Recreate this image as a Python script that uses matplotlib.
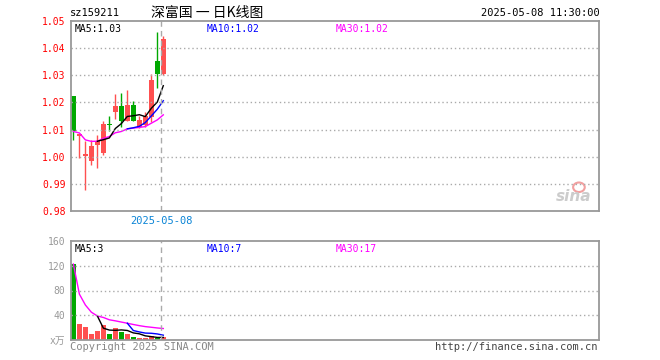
import numpy as np
import pandas as pd
import matplotlib
matplotlib.use('Agg')
import matplotlib.pyplot as plt
from matplotlib.patches import Ellipse

plt.rcParams['font.family'] = ['DejaVu Sans Mono', 'Noto Sans CJK SC']

# daily candles (16 trading days up to 2025-05-08)
opens  = [1.0225, 1.0075, 1.0001, 0.9983, 1.0042, 1.0013, 1.0122, 1.0163,
          1.0186, 1.0131, 1.0191, 1.0110, 1.0118, 1.0148, 1.0353, 1.0306]
closes = [1.0093, 1.0082, 1.0011, 1.0040, 1.0059, 1.0121, 1.0115, 1.0185,
          1.0130, 1.0191, 1.0133, 1.0135, 1.0150, 1.0283, 1.0306, 1.0434]
highs  = [1.0225, 1.0085, 1.0058, 1.0060, 1.0081, 1.0132, 1.0150, 1.0231,
          1.0235, 1.0245, 1.0205, 1.0150, 1.0165, 1.0305, 1.0458, 1.0446]
lows   = [1.0060, 0.9995, 0.9876, 0.9968, 0.9958, 1.0007, 1.0095, 1.0140,
          1.0111, 1.0130, 1.0130, 1.0105, 1.0108, 1.0129, 1.0253, 1.0300]
volumes = [122.7, 25.6, 21.3, 10.0, 14.4, 24.5, 10.0, 19.2,
           13.3, 10.0, 4.8, 2.7, 2.7, 7.0, 3.6, 4.8]

price_ticks = [0.98, 0.99, 1.00, 1.01, 1.02, 1.03, 1.04, 1.05]
vol_ticks = [0, 40, 80, 120, 160]
vol_tick_labels = ['x万', '40', '80', '120', '160']
last_date = '2025-05-08'

RED = '#ff5050'
GREEN = '#00a800'
GRAY = '#999999'

df = pd.DataFrame({'open': opens, 'close': closes, 'high': highs, 'low': lows, 'vol': volumes})
x = np.arange(len(df))
up = df['close'] >= df['open']
colors = np.where(up, RED, GREEN)

ma5 = df['close'].rolling(5).mean()
ma10 = df['close'].rolling(10).mean()
ma30 = df['close'].expanding().mean()
vma5 = df['vol'].rolling(5).mean()
vma10 = df['vol'].rolling(10).mean()
vma30 = df['vol'].expanding().mean()

fig = plt.figure(figsize=(6.6, 3.6), dpi=100)
W, H = 660, 360
ax = fig.add_axes([71 / W, 1 - 211 / H, 528 / W, 190 / H])
axv = fig.add_axes([71 / W, 1 - 340 / H, 528 / W, 99 / H])

xlim = (-0.4, 87.7)
bw = 0.82
mark_x = len(df) - 1 - 0.35

# price panel
ax.vlines(x, df['low'], df['high'], colors=colors, linewidth=1)
body_h = (df['close'] - df['open']).abs().clip(lower=0.00025)
body_b = df[['open', 'close']].min(axis=1)
ax.bar(x, body_h, bottom=body_b, width=bw, color=colors, linewidth=0)
ax.plot(x, ma30, color='#ff00ff', linewidth=1)
ax.plot(x, ma10, color='#0000ff', linewidth=1)
ax.plot(x, ma5, color='black', linewidth=1)

ax.set_xlim(*xlim)
ax.set_ylim(price_ticks[0], price_ticks[-1])
ax.set_yticks(price_ticks)
ax.set_yticklabels(['%.2f' % t for t in price_ticks], color='red', fontsize=7)
ax.set_xticks([])
for t in price_ticks[1:-1]:
    ax.axhline(t, color='#aaaaaa', linestyle=(0, (1, 2)), linewidth=1)
ax.axvline(mark_x, color='#aaaaaa', linestyle=(0, (4, 3)), linewidth=1)

ax.text(0.006, 0.985, 'MA5:1.03', transform=ax.transAxes, fontsize=7, color='black', va='top')
ax.text(0.256, 0.985, 'MA10:1.02', transform=ax.transAxes, fontsize=7, color='#0000ff', va='top')
ax.text(0.502, 0.985, 'MA30:1.02', transform=ax.transAxes, fontsize=7, color='#ff00ff', va='top')
ax.text(0.985, 0.035, 'sina', transform=ax.transAxes, fontsize=11, color='#cccccc',
        ha='right', va='bottom', style='italic', weight='bold', family='DejaVu Sans')
ax.add_patch(Ellipse((0.962, 0.125), 0.022, 0.05, transform=ax.transAxes,
                     facecolor='none', edgecolor='#f2a0a0', linewidth=1.5))

# volume panel
axv.bar(x, df['vol'], width=bw, color=colors, linewidth=0)
axv.plot(x, vma30, color='#ff00ff', linewidth=1)
axv.plot(x, vma10, color='#0000ff', linewidth=1)
axv.plot(x, vma5, color='black', linewidth=1)
axv.set_xlim(*xlim)
axv.set_ylim(0, 160)
axv.set_yticks(vol_ticks)
axv.set_yticklabels(vol_tick_labels, color=GRAY, fontsize=7)
axv.set_xticks([])
for t in vol_ticks[1:-1]:
    axv.axhline(t, color='#aaaaaa', linestyle=(0, (1, 2)), linewidth=1)
axv.axvline(mark_x, color='#aaaaaa', linestyle=(0, (4, 3)), linewidth=1)
axv.text(0.006, 0.97, 'MA5:3', transform=axv.transAxes, fontsize=7, color='black', va='top')
axv.text(0.256, 0.97, 'MA10:7', transform=axv.transAxes, fontsize=7, color='#0000ff', va='top')
axv.text(0.502, 0.97, 'MA30:17', transform=axv.transAxes, fontsize=7, color='#ff00ff', va='top')

for a in (ax, axv):
    for s in a.spines.values():
        s.set_color(GRAY)
        s.set_linewidth(1.3)
    a.tick_params(length=0, pad=4)

# date under the marker line
date_x = fig.transFigure.inverted().transform(ax.transData.transform((mark_x, 1.0)))[0]
fig.text(date_x, 1 - 221 / H, last_date, fontsize=7.5, color='#0a84d6', ha='center', va='center')

# header and footer
fig.text(70 / W, 1 - 13 / H, 'sz159211', fontsize=7.5, color='black', va='center')
fig.text(151 / W, 1 - 13 / H, '深富国 一 日K线图', fontsize=10, color='black', va='center',
         family=['Noto Sans CJK SC', 'DejaVu Sans'])
fig.text(600 / W, 1 - 13 / H, '2025-05-08 11:30:00', fontsize=7.5, color='black',
         va='center', ha='right')
fig.text(70 / W, 1 - 347 / H, 'Copyright 2025 SINA.COM', fontsize=7.5, color='#888888', va='center')
fig.text(597 / W, 1 - 347 / H, 'http://finance.sina.com.cn', fontsize=7.5, color='#444444',
         va='center', ha='right')

fig.savefig('out.png', dpi=100)
